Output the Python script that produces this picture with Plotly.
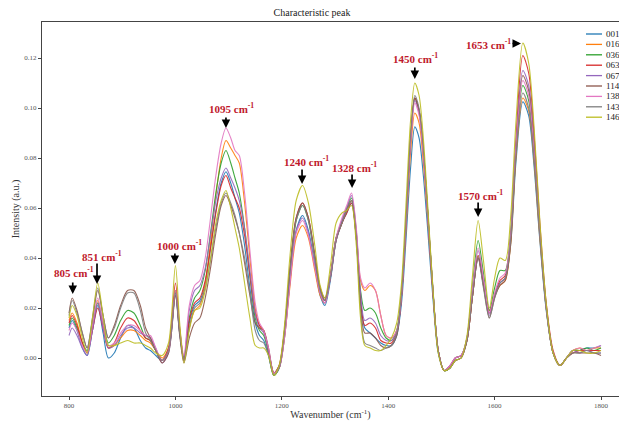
import plotly.graph_objects as go

# Wavenumber grid (cm^-1)
wavenumber = [800, 806, 815, 825, 834, 844, 854, 864, 874, 885,
              897, 910, 922, 934, 944, 953, 963, 975, 987, 1000,
              1008, 1016, 1026, 1036, 1046, 1056, 1066, 1076, 1086, 1095,
              1104, 1112, 1120, 1130, 1140, 1150, 1158, 1166, 1175, 1185,
              1195, 1205, 1215, 1227, 1239, 1250, 1262, 1272, 1281, 1292,
              1302, 1313, 1322, 1331, 1340, 1348, 1356, 1366, 1376, 1386,
              1396, 1406, 1416, 1425, 1433, 1442, 1450, 1458, 1466, 1474,
              1484, 1494, 1505, 1516, 1526, 1537, 1548, 1558, 1569, 1579,
              1590, 1600, 1610, 1620, 1630, 1640, 1653, 1664, 1674, 1685,
              1697, 1710, 1723, 1735, 1747, 1760, 1773, 1787, 1800]

s001 = [0.012, 0.015, 0.011, 0.004, 0.001, 0.011, 0.021, 0.010, 0.000, 0.002,
        0.008, 0.013, 0.012, 0.007, 0.004, 0.003, 0.001, -0.001, 0.003, 0.026,
        0.010, -0.001, 0.014, 0.021, 0.023, 0.030, 0.044, 0.059, 0.070, 0.0745,
        0.070, 0.064, 0.058, 0.045, 0.028, 0.014, 0.009, 0.007, 0.001, -0.007,
        -0.004, 0.008, 0.030, 0.051, 0.057, 0.051, 0.037, 0.025, 0.021, 0.032,
        0.047, 0.054, 0.058, 0.062, 0.048, 0.024, 0.012, 0.010, 0.008, 0.006,
        0.005, 0.005, 0.009, 0.022, 0.046, 0.076, 0.0925, 0.088, 0.073, 0.052,
        0.024, 0.002, -0.005, -0.004, -0.001, 0.000, 0.007, 0.024, 0.040, 0.030,
        0.018, 0.025, 0.030, 0.032, 0.045, 0.078, 0.1025, 0.097, 0.077, 0.047,
        0.019, 0.002, -0.003, 0.000, 0.003, 0.003, 0.004, 0.004, 0.005]

s016 = [0.015, 0.018, 0.014, 0.006, 0.002, 0.012, 0.023, 0.013, 0.004, 0.005,
        0.008, 0.011, 0.011, 0.009, 0.007, 0.006, 0.003, 0.000, 0.004, 0.027,
        0.011, 0.000, 0.012, 0.019, 0.021, 0.030, 0.046, 0.065, 0.080, 0.087,
        0.084, 0.081, 0.078, 0.062, 0.040, 0.020, 0.013, 0.011, 0.003, -0.006,
        -0.004, 0.008, 0.028, 0.048, 0.053, 0.048, 0.035, 0.025, 0.022, 0.034,
        0.048, 0.054, 0.059, 0.063, 0.050, 0.031, 0.027, 0.029, 0.027, 0.017,
        0.009, 0.008, 0.011, 0.025, 0.050, 0.082, 0.098, 0.094, 0.078, 0.056,
        0.026, 0.003, -0.005, -0.004, -0.001, 0.000, 0.007, 0.024, 0.041, 0.030,
        0.019, 0.025, 0.029, 0.031, 0.045, 0.080, 0.104, 0.099, 0.079, 0.048,
        0.020, 0.002, -0.003, 0.000, 0.003, 0.004, 0.003, 0.004, 0.004]

s036 = [0.013, 0.016, 0.012, 0.006, 0.003, 0.013, 0.022, 0.014, 0.006, 0.009,
        0.015, 0.019, 0.018, 0.013, 0.008, 0.007, 0.003, -0.001, 0.003, 0.027,
        0.011, 0.000, 0.016, 0.024, 0.027, 0.035, 0.050, 0.066, 0.078, 0.083,
        0.078, 0.072, 0.066, 0.052, 0.033, 0.016, 0.011, 0.009, 0.002, -0.007,
        -0.004, 0.010, 0.033, 0.055, 0.061, 0.055, 0.040, 0.027, 0.023, 0.034,
        0.048, 0.055, 0.060, 0.064, 0.050, 0.027, 0.019, 0.020, 0.018, 0.012,
        0.008, 0.007, 0.011, 0.026, 0.053, 0.088, 0.104, 0.099, 0.083, 0.059,
        0.027, 0.003, -0.005, -0.004, 0.000, 0.001, 0.008, 0.028, 0.047, 0.034,
        0.019, 0.028, 0.035, 0.035, 0.050, 0.084, 0.109, 0.103, 0.082, 0.050,
        0.020, 0.002, -0.003, 0.000, 0.003, 0.003, 0.004, 0.003, 0.004]

s063 = [0.014, 0.017, 0.013, 0.006, 0.002, 0.011, 0.020, 0.012, 0.004, 0.006,
        0.012, 0.016, 0.015, 0.011, 0.008, 0.007, 0.003, -0.001, 0.004, 0.030,
        0.012, -0.001, 0.015, 0.022, 0.024, 0.031, 0.044, 0.058, 0.069, 0.073,
        0.068, 0.064, 0.060, 0.049, 0.033, 0.018, 0.013, 0.011, 0.003, -0.006,
        -0.003, 0.011, 0.035, 0.056, 0.062, 0.056, 0.041, 0.028, 0.023, 0.033,
        0.047, 0.054, 0.058, 0.062, 0.048, 0.023, 0.013, 0.014, 0.012, 0.007,
        0.006, 0.006, 0.010, 0.025, 0.053, 0.088, 0.104, 0.099, 0.083, 0.059,
        0.027, 0.003, -0.005, -0.003, 0.000, 0.001, 0.007, 0.024, 0.040, 0.029,
        0.018, 0.025, 0.031, 0.033, 0.048, 0.087, 0.121, 0.114, 0.090, 0.054,
        0.022, 0.003, -0.003, 0.000, 0.002, 0.003, 0.003, 0.003, 0.003]

s067 = [0.009, 0.012, 0.009, 0.004, 0.001, 0.011, 0.022, 0.012, 0.004, 0.005,
        0.009, 0.012, 0.012, 0.010, 0.009, 0.008, 0.004, -0.002, 0.002, 0.025,
        0.010, 0.000, 0.019, 0.027, 0.029, 0.036, 0.049, 0.063, 0.072, 0.076,
        0.072, 0.068, 0.063, 0.052, 0.035, 0.018, 0.012, 0.010, 0.003, -0.006,
        -0.004, 0.009, 0.030, 0.051, 0.056, 0.050, 0.037, 0.026, 0.022, 0.033,
        0.047, 0.055, 0.060, 0.065, 0.051, 0.026, 0.015, 0.016, 0.014, 0.009,
        0.007, 0.007, 0.010, 0.025, 0.052, 0.087, 0.103, 0.098, 0.082, 0.058,
        0.027, 0.003, -0.005, -0.003, 0.000, 0.001, 0.008, 0.026, 0.043, 0.031,
        0.017, 0.025, 0.030, 0.032, 0.048, 0.085, 0.115, 0.109, 0.086, 0.052,
        0.021, 0.002, -0.003, 0.000, 0.003, 0.002, 0.003, 0.002, 0.002]

s114 = [0.018, 0.024, 0.019, 0.010, 0.004, 0.015, 0.027, 0.017, 0.008, 0.013,
        0.021, 0.027, 0.027, 0.021, 0.012, 0.008, 0.003, -0.002, 0.002, 0.025,
        0.009, -0.002, 0.008, 0.014, 0.016, 0.024, 0.036, 0.050, 0.061, 0.065,
        0.061, 0.056, 0.050, 0.038, 0.025, 0.014, 0.012, 0.011, 0.004, -0.006,
        -0.003, 0.011, 0.035, 0.056, 0.062, 0.056, 0.041, 0.028, 0.024, 0.034,
        0.048, 0.054, 0.059, 0.063, 0.048, 0.021, 0.010, 0.010, 0.008, 0.005,
        0.004, 0.005, 0.009, 0.025, 0.053, 0.088, 0.104, 0.099, 0.083, 0.059,
        0.027, 0.003, -0.005, -0.004, -0.001, 0.000, 0.007, 0.024, 0.041, 0.029,
        0.016, 0.024, 0.029, 0.031, 0.046, 0.082, 0.113, 0.107, 0.085, 0.051,
        0.021, 0.002, -0.003, 0.000, 0.002, 0.002, 0.002, 0.002, 0.001]

s138 = [0.011, 0.014, 0.011, 0.005, 0.002, 0.013, 0.024, 0.014, 0.005, 0.006,
        0.010, 0.013, 0.013, 0.011, 0.009, 0.009, 0.004, -0.001, 0.003, 0.027,
        0.012, 0.001, 0.021, 0.029, 0.031, 0.040, 0.056, 0.073, 0.086, 0.092,
        0.088, 0.083, 0.081, 0.066, 0.043, 0.022, 0.014, 0.011, 0.004, -0.006,
        -0.004, 0.008, 0.029, 0.050, 0.055, 0.049, 0.036, 0.026, 0.022, 0.034,
        0.048, 0.056, 0.061, 0.066, 0.052, 0.032, 0.028, 0.030, 0.027, 0.017,
        0.009, 0.008, 0.011, 0.025, 0.052, 0.086, 0.102, 0.097, 0.081, 0.058,
        0.027, 0.003, -0.005, -0.003, 0.000, 0.001, 0.008, 0.027, 0.044, 0.032,
        0.018, 0.026, 0.032, 0.034, 0.049, 0.084, 0.111, 0.105, 0.083, 0.050,
        0.020, 0.002, -0.003, 0.000, 0.003, 0.004, 0.003, 0.004, 0.005]

s143 = [0.017, 0.023, 0.018, 0.010, 0.004, 0.016, 0.028, 0.017, 0.008, 0.012,
        0.020, 0.026, 0.026, 0.019, 0.010, 0.007, 0.003, -0.001, 0.003, 0.026,
        0.010, -0.001, 0.012, 0.020, 0.022, 0.028, 0.039, 0.052, 0.062, 0.066,
        0.062, 0.057, 0.050, 0.040, 0.026, 0.011, 0.007, 0.006, 0.001, -0.007,
        -0.004, 0.011, 0.034, 0.055, 0.061, 0.055, 0.040, 0.027, 0.023, 0.033,
        0.047, 0.054, 0.059, 0.063, 0.048, 0.019, 0.006, 0.005, 0.004, 0.003,
        0.004, 0.005, 0.010, 0.026, 0.054, 0.089, 0.105, 0.100, 0.084, 0.060,
        0.028, 0.003, -0.005, -0.004, -0.001, 0.000, 0.007, 0.024, 0.040, 0.028,
        0.016, 0.024, 0.030, 0.032, 0.047, 0.081, 0.106, 0.100, 0.080, 0.049,
        0.020, 0.002, -0.003, 0.000, 0.002, 0.002, 0.003, 0.002, 0.002]

s146 = [0.016, 0.021, 0.017, 0.008, 0.002, 0.016, 0.030, 0.017, 0.005, 0.005,
        0.006, 0.007, 0.006, 0.006, 0.005, 0.004, 0.002, 0.001, 0.006, 0.037,
        0.014, -0.002, 0.011, 0.019, 0.020, 0.027, 0.040, 0.054, 0.063, 0.067,
        0.060, 0.052, 0.044, 0.030, 0.016, 0.005, 0.004, 0.004, 0.001, -0.007,
        -0.003, 0.013, 0.040, 0.063, 0.069, 0.062, 0.045, 0.029, 0.024, 0.038,
        0.054, 0.058, 0.059, 0.061, 0.045, 0.016, 0.005, 0.004, 0.003, 0.003,
        0.005, 0.008, 0.014, 0.030, 0.060, 0.095, 0.110, 0.105, 0.088, 0.062,
        0.028, 0.002, -0.005, -0.004, -0.001, 0.000, 0.009, 0.032, 0.055, 0.039,
        0.020, 0.032, 0.040, 0.039, 0.056, 0.094, 0.126, 0.118, 0.093, 0.055,
        0.022, 0.002, -0.003, 0.000, 0.003, 0.003, 0.002, 0.002, 0.003]

series_names = ["001", "016", "036", "063", "067", "114", "138", "143", "146"]
series_values = [s001, s016, s036, s063, s067, s114, s138, s143, s146]
series_colors = ["#1f77b4", "#ff7f0e", "#2ca02c", "#d62728", "#9467bd",
                 "#8c564b", "#e377c2", "#7f7f7f", "#bcbd22"]

# Peak annotations
peak_labels = ["805", "851", "1000", "1095", "1240", "1328", "1450", "1570", "1653"]
label_x = [809, 862, 1007, 1104.5, 1245.5, 1335.7, 1452, 1574, 1587.6]
label_y = [0.0344, 0.0408, 0.0452, 0.100, 0.0788, 0.0764, 0.120, 0.0652, 0.1256]
arrow_x = [807, 852.6, 999, 1095, 1238, 1332, 1450, 1569, 1649.6]
arrow_y = [0.0256, 0.0296, 0.0376, 0.092, 0.0696, 0.068, 0.1116, 0.0564, 0.1258]
arrow_ax = [0, 0, 0, 0, 0, 0, 0, 0, -10]
arrow_ay = [-13, -22, -12, -12, -16, -15, -13, -16, 0]

x_ticks = [800, 1000, 1200, 1400, 1600, 1800]
y_ticks = [0.00, 0.02, 0.04, 0.06, 0.08, 0.10, 0.12]

SERIF = "Liberation Serif, Times New Roman, serif"
W, H = 619, 421
ML, MR, MT, MB = 42, 0, 22, 25
plot_w = W - ML - MR
plot_h = H - MT - MB

fig = go.Figure()
for name, vals, col in zip(series_names, series_values, series_colors):
    fig.add_trace(go.Scatter(x=wavenumber, y=vals, mode="lines", name=name,
                             line=dict(color=col, width=1.1, shape="spline", smoothing=0.8),
                             opacity=0.9, showlegend=False))

annotations = []
shapes = []
for lab, lx, ly in zip(peak_labels, label_x, label_y):
    annotations.append(dict(x=lx, y=ly, xref="x", yref="y", showarrow=False,
                            text="<b>%s cm<sup>-1</sup></b>" % lab,
                            font=dict(family=SERIF, size=11, color="#c0192b")))
for hx, hy, ax, ay in zip(arrow_x, arrow_y, arrow_ax, arrow_ay):
    annotations.append(dict(x=hx, y=hy, xref="x", yref="y", text="", showarrow=True,
                            ax=ax, ay=ay, arrowhead=2, arrowsize=1.0, arrowwidth=1.7,
                            arrowcolor="#000000", standoff=0, startstandoff=0))

# Compact legend drawn in matplotlib style
for i, (name, col) in enumerate(zip(series_names, series_colors)):
    py = 34 + i * 10.4
    yp = (H - MB - py) / plot_h
    x0 = (586 - ML) / plot_w
    x1 = (602 - ML) / plot_w
    shapes.append(dict(type="line", xref="paper", yref="paper", x0=x0, x1=x1, y0=yp, y1=yp,
                       line=dict(color=col, width=1.3)))
    annotations.append(dict(x=(604 - ML) / plot_w, y=yp, xref="paper", yref="paper",
                            xanchor="left", yanchor="middle", showarrow=False, text=name,
                            font=dict(family=SERIF, size=9, color="#222222")))

fig.update_layout(
    width=W, height=H,
    margin=dict(l=ML, r=MR, t=MT, b=MB),
    paper_bgcolor="white", plot_bgcolor="white",
    title=dict(text="Characteristic peak", x=312 / W, xanchor="center",
               y=1 - 12 / H, yanchor="middle",
               font=dict(family=SERIF, size=10, color="#222222")),
    annotations=annotations, shapes=shapes,
    showlegend=False,
)
fig.update_xaxes(range=[749.2, 1833.8], tickvals=x_ticks, ticks="outside", ticklen=3,
                 tickcolor="#444", tickfont=dict(family=SERIF, size=7, color="#555"),
                 showline=True, linecolor="#444", linewidth=1, mirror=True,
                 showgrid=False, zeroline=False, automargin=False,
                 title=dict(text="Wavenumber (cm<sup>-1</sup>)", standoff=2,
                            font=dict(family=SERIF, size=10, color="#333")))
fig.update_yaxes(range=[-0.0152, 0.1344], tickvals=y_ticks, tickformat=".2f",
                 ticks="outside", ticklen=3, tickcolor="#444",
                 tickfont=dict(family=SERIF, size=7, color="#555"),
                 showline=True, linecolor="#444", linewidth=1, mirror=False,
                 showgrid=False, zeroline=False, automargin=False,
                 title=dict(text="Intensity (a.u.)", standoff=2,
                            font=dict(family=SERIF, size=10, color="#333")))

fig.write_html("out.html", config={"displayModeBar": False},
               post_script="document.body.style.margin='0';document.body.style.overflow='hidden';")
